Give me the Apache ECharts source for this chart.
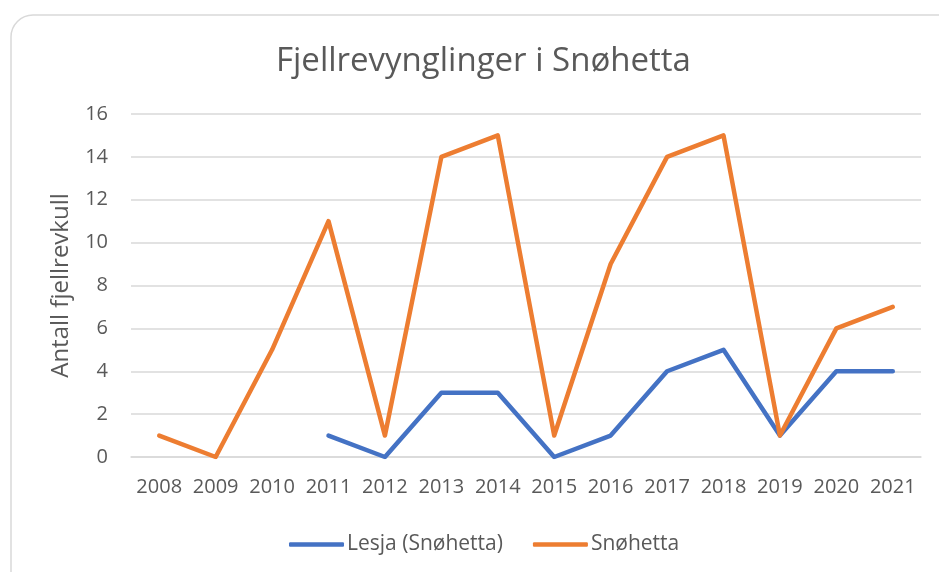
<!DOCTYPE html>
<html><head><meta charset="utf-8">
<script src="https://cdn.jsdelivr.net/npm/echarts@6/dist/echarts.min.js"></script>
<style>html,body{margin:0;padding:0;background:#fff}#c{width:939px;height:572px}</style>
</head><body><div id="c"></div>
<script>
const years = ['2008','2009','2010','2011','2012','2013','2014','2015','2016','2017','2018','2019','2020','2021'];
const lesja = [null,null,null,1,0,3,3,0,1,4,5,1,4,4];
const snohetta = [1,0,5,11,1,14,15,1,9,14,15,1,6,7];
const yTicks = [0,2,4,6,8,10,12,14,16];

const font = '"Open Sans", "Liberation Sans", sans-serif';
const chart = echarts.init(document.getElementById('c'), null, {renderer:'canvas'});
chart.setOption({
  animation:false,
  backgroundColor:'#fff',
  graphic:[{type:'rect', shape:{x:11,y:15,width:960,height:600,r:22}, style:{fill:'none',stroke:'#d9d9d9',lineWidth:1.5}, z:-1}],
  title:{text:'Fjellrevynglinger i Snøhetta', left:271, top:40, textStyle:{fontFamily:font, fontSize:33, fontWeight:'normal', color:'#595959'}},
  legend:{bottom:12, left:284, itemWidth:55, itemHeight:4.5, itemGap:30, icon:'roundRect',
    textStyle:{fontFamily:font, fontSize:21, color:'#595959', padding:[0,0,0,-2]},
    data:['Lesja (Snøhetta)','Snøhetta']},
  grid:{left:131, right:18, top:114, bottom:115},
  xAxis:{type:'category', data:years, boundaryGap:true,
    axisLine:{lineStyle:{color:'#d9d9d9', width:1.5}}, axisTick:{show:false},
    axisLabel:{fontFamily:font, fontSize:20, color:'#595959', margin:20, interval:0, hideOverlap:false}},
  yAxis:{type:'value', min:yTicks[0], max:yTicks[yTicks.length-1], interval:2,
    name:'Antall fjellrevkull', nameLocation:'middle', nameGap:58, nameRotate:90,
    nameTextStyle:{fontFamily:font, fontSize:24, color:'#595959'},
    axisLine:{show:false}, axisTick:{show:false},
    axisLabel:{fontFamily:font, fontSize:20, color:'#595959', margin:23},
    splitLine:{lineStyle:{color:'#d9d9d9', width:1.5}}},
  series:[
    {name:'Lesja (Snøhetta)', type:'line', data:lesja, symbol:'none', connectNulls:false,
      lineStyle:{color:'#4472C4', width:4.5, cap:'round', join:'round'}, itemStyle:{color:'#4472C4'}},
    {name:'Snøhetta', type:'line', data:snohetta, symbol:'none',
      lineStyle:{color:'#ED7D31', width:4.5, cap:'round', join:'round'}, itemStyle:{color:'#ED7D31'}}
  ]
});
</script></body></html>
